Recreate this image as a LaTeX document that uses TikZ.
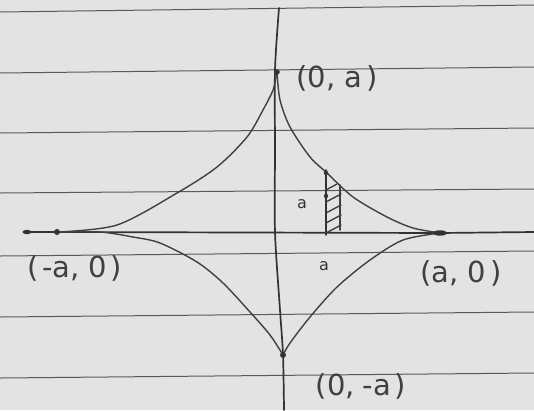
\documentclass[tikz,border=0pt]{standalone}
\usepackage{fontspec}
\setmainfont{DejaVu Sans}
\begin{document}
\begin{tikzpicture}[x=1pt,y=-1pt,
  rule/.style={draw=gray!70!black, line width=1pt},
  pen/.style={draw=black!75, line width=1.4pt, line cap=round, line join=round},
  axis/.style={draw=black!80, line width=1.7pt, line cap=round, line join=round},
  lbl/.style={inner sep=0pt, text=black!75, font=\fontsize{29}{31}\selectfont},
  sm/.style={inner sep=0pt, text=black!80, font=\fontsize{16}{18}\selectfont}]
\useasboundingbox (0,0) rectangle (534,410);
\fill[black!11] (0,0) rectangle (534,410);
% ruled lines
\foreach \a/\b in {12/5,73/67,133/128,193/189,256/251,317/312,378/373}
  \draw[rule] (0,\a) -- (534,\b);
% key points
\coordinate (T) at (277,72);
\coordinate (L) at (57,232);
\coordinate (R) at (440,233);
\coordinate (B) at (283,355);
\coordinate (xs) at (27,232);
\coordinate (xe) at (534,232);
\coordinate (ys) at (279,8);
\coordinate (ye) at (284,410);
% axes
\draw[axis] (xs) -- (L) -- (R) -- (xe);
\draw[axis] plot[smooth] coordinates {(ys) (275,70) (275,150) (275,232) (280,310) (B) (ye)};
% astroid arcs
\draw[pen] plot[smooth] coordinates {(L) (117,225) (177,193) (217,167) (247,137) (263,110) (273,90) (T)};
\draw[pen] plot[smooth] coordinates {(T) (280,100) (290,127) (310,157) (327,173) (353,197) (387,217) (413,228) (R)};
\draw[pen] plot[smooth] coordinates {(R) (403,240) (370,260) (337,287) (310,317) (290,343) (B)};
\draw[pen] plot[smooth] coordinates {(L) (100,232) (133,237) (160,243) (197,262) (223,283) (250,312) (270,335) (B)};
% cusp marks
\fill[black!80] (L) circle (3);
\fill[black!80] (xs) ellipse (4.5 and 2.2);
\fill[black!80] (R) ellipse (7 and 2.7);
\fill[black!80] (B) circle (3);
\fill[black!80] (T) circle (2.8);
% shaded strip
\coordinate (s1) at (326,170);
\coordinate (s2) at (326,235);
\coordinate (s3) at (340,185);
\coordinate (s4) at (340,230);
\draw[axis] (s1) -- (s2);
\draw[pen] (s3) -- (s4);
\foreach \y in {0,11,21,31}
  \draw[pen] (326,202+\y) -- (341,194+\y);
\draw[pen] (326,190) -- (337,184);
\fill[black!80] (326,173) circle (2.2);
\fill[black!80] (326,196) circle (2.2);
% labels
\node[sm] (la) at (302,204) {a};
\node[sm] (lb) at (324,266) {a};
\node[lbl] (nT) at (337,78) {(0,\kern9pt a\kern4pt)};
\node[lbl] (nL) at (75,268) {(\kern3pt-a,\kern9pt 0\kern4pt)};
\node[lbl] (nR) at (461,273) {(a,\kern9pt 0\kern4pt)};
\node[lbl] (nB) at (361,386) {(0,\kern8pt -a\kern4pt)};
\end{tikzpicture}
\end{document}
